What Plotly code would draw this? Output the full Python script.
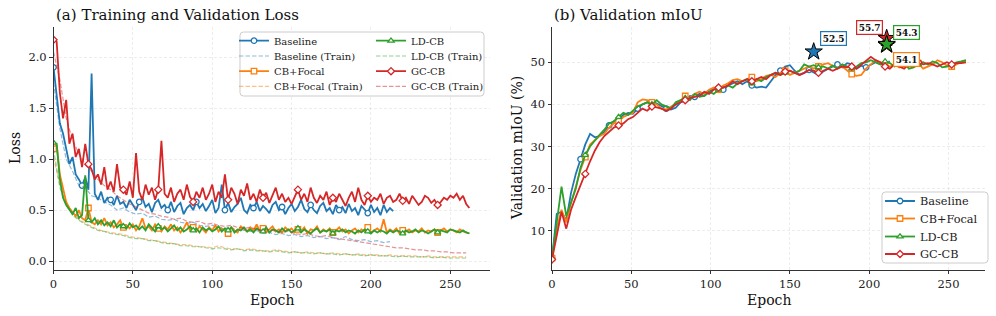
import plotly.graph_objects as go

# ---------------- data ----------------
METHODS = ["Baseline", "CB+Focal", "LD-CB", "GC-CB"]
VAL_STEP = 2      # epochs between stored validation-loss values
TRAIN_STEP = 4    # epochs between stored train-loss values
MIOU_STEP = 3     # epochs between stored mIoU values

BASE_VAL = [1.90, 1.62, 1.35, 1.25, 1.08, 0.95, 1.02, 0.85, 0.80, 0.74,
            0.82, 0.70, 1.84, 0.66, 0.60, 0.68, 0.57, 0.62, 0.60, 0.55,
            0.64, 0.56, 0.58, 0.52, 0.60, 0.55, 0.50, 0.58, 0.62, 0.53,
            0.56, 0.48, 0.57, 0.60, 0.52, 0.55, 0.50, 0.58, 0.48, 0.54,
            0.57, 0.46, 0.52, 0.55, 0.50, 0.58, 0.52, 0.56, 0.49, 0.54,
            0.60, 0.47, 0.52, 0.75, 0.50, 0.57, 0.48, 0.53, 0.56, 0.62,
            0.50, 0.47, 0.55, 0.52, 0.58, 0.49, 0.54, 0.51, 0.47, 0.55,
            0.58, 0.50, 0.53, 0.46, 0.52, 0.56, 0.49, 0.53, 0.60, 0.51,
            0.48, 0.55, 0.50, 0.47, 0.54, 0.57, 0.49, 0.52, 0.46, 0.55,
            0.50, 0.53, 0.47, 0.56, 0.49, 0.52, 0.45, 0.54, 0.50, 0.47,
            0.55, 0.48, 0.52, 0.45, 0.55, 0.48, 0.52, 0.49]
CB_VAL = [1.10, 1.14, 0.85, 0.70, 0.58, 0.52, 0.48, 0.44, 0.50, 0.42,
          0.40, 0.52, 0.38, 0.36, 0.40, 0.36, 0.42, 0.35, 0.38, 0.33,
          0.36, 0.40, 0.33, 0.35, 0.32, 0.36, 0.30, 0.34, 0.42, 0.32,
          0.34, 0.30, 0.36, 0.32, 0.29, 0.34, 0.31, 0.36, 0.30, 0.33,
          0.28, 0.32, 0.38, 0.30, 0.33, 0.29, 0.34, 0.31, 0.28, 0.33,
          0.30, 0.35, 0.29, 0.32, 0.30, 0.27, 0.33, 0.30, 0.28, 0.34,
          0.31, 0.29, 0.33, 0.30, 0.36, 0.29, 0.32, 0.28, 0.31, 0.34,
          0.29, 0.31, 0.28, 0.33, 0.30, 0.32, 0.28, 0.31, 0.29, 0.33,
          0.27, 0.31, 0.30, 0.34, 0.28, 0.31, 0.29, 0.32, 0.28, 0.30,
          0.33, 0.29, 0.31, 0.27, 0.30, 0.32, 0.28, 0.31, 0.29, 0.33,
          0.28, 0.30, 0.32, 0.29, 0.41, 0.28, 0.31, 0.29, 0.32, 0.27,
          0.30, 0.29, 0.31, 0.28, 0.30, 0.29, 0.32, 0.28, 0.30, 0.29,
          0.31, 0.28, 0.30, 0.32, 0.29, 0.31, 0.30, 0.28, 0.31, 0.29,
          0.28, 0.27]
LD_VAL = [1.16, 1.15, 0.80, 0.62, 0.55, 0.50, 0.46, 0.52, 0.42, 0.45,
          0.84, 0.40, 0.38, 0.42, 0.36, 0.40, 0.35, 0.38, 0.34, 0.40,
          0.33, 0.36, 0.34, 0.32, 0.37, 0.33, 0.35, 0.31, 0.34, 0.30,
          0.36, 0.32, 0.29, 0.34, 0.31, 0.33, 0.29, 0.32, 0.35, 0.30,
          0.33, 0.29, 0.31, 0.34, 0.30, 0.32, 0.28, 0.33, 0.30, 0.32,
          0.29, 0.31, 0.34, 0.29, 0.32, 0.30, 0.33, 0.28, 0.31, 0.30,
          0.33, 0.29, 0.31, 0.28, 0.32, 0.30, 0.29, 0.33, 0.28, 0.31,
          0.30, 0.28, 0.32, 0.29, 0.31, 0.28, 0.30, 0.32, 0.28, 0.31,
          0.29, 0.27, 0.30, 0.32, 0.28, 0.30, 0.29, 0.31, 0.27, 0.30,
          0.29, 0.31, 0.28, 0.30, 0.29, 0.27, 0.30, 0.28, 0.31, 0.29,
          0.27, 0.30, 0.28, 0.30, 0.29, 0.27, 0.30, 0.28, 0.30, 0.29,
          0.27, 0.30, 0.28, 0.29, 0.31, 0.28, 0.30, 0.29, 0.27, 0.29,
          0.31, 0.28, 0.30, 0.29, 0.28, 0.31, 0.30, 0.29, 0.28, 0.30,
          0.28, 0.27]
GC_VAL = [2.17, 2.15, 1.65, 1.40, 1.58, 1.15, 1.25, 1.02, 1.10, 0.92,
          1.15, 0.95, 0.90, 0.80, 0.85, 0.75, 0.92, 0.70, 0.78, 0.68,
          0.95, 0.72, 0.70, 0.65, 0.78, 0.62, 1.06, 0.68, 0.60, 0.75,
          0.65, 0.72, 0.60, 0.70, 1.18, 0.66, 0.62, 0.72, 0.58, 0.66,
          0.70, 0.60, 0.75, 0.63, 0.58, 0.68, 0.62, 0.72, 0.60, 0.66,
          0.75, 0.58, 0.68, 0.62, 0.85, 0.60, 0.72, 0.66, 0.56, 0.70,
          0.64, 0.76, 0.60, 0.66, 0.58, 0.70, 0.62, 0.67, 0.57, 0.65,
          0.72, 0.60, 0.66, 0.58, 0.62, 0.56, 0.64, 0.70, 0.60, 0.66,
          0.58, 0.72, 0.62, 0.57, 0.64, 0.60, 0.68, 0.55, 0.62, 0.58,
          0.66, 0.60, 0.54, 0.62, 0.68, 0.58, 0.72, 0.60, 0.55, 0.64,
          0.58, 0.62, 0.60, 0.66, 0.56, 0.62, 0.64, 0.58, 0.60, 0.66,
          0.59, 0.62, 0.56, 0.64, 0.60, 0.55, 0.58, 0.64, 0.62, 0.57,
          0.60, 0.55, 0.58, 0.62, 0.60, 0.64, 0.62, 0.66, 0.60, 0.64,
          0.56, 0.52]

BASE_TRAIN = [1.75, 1.30, 1.00, 0.88, 0.74, 0.72, 0.64, 0.62, 0.58, 0.55,
              0.50, 0.52, 0.48, 0.46, 0.47, 0.43, 0.44, 0.41, 0.40, 0.41,
              0.38, 0.37, 0.38, 0.35, 0.34, 0.35, 0.33, 0.32, 0.33, 0.30,
              0.30, 0.29, 0.30, 0.27, 0.28, 0.26, 0.27, 0.25, 0.26, 0.24,
              0.25, 0.23, 0.24, 0.22, 0.23, 0.21, 0.24, 0.21, 0.20, 0.21,
              0.19, 0.20, 0.18, 0.19]
CB_TRAIN = [1.02, 0.75, 0.57, 0.47, 0.41, 0.37, 0.34, 0.31, 0.29, 0.28,
            0.27, 0.26, 0.24, 0.23, 0.22, 0.21, 0.20, 0.19, 0.18, 0.17,
            0.16, 0.16, 0.15, 0.14, 0.14, 0.13, 0.15, 0.13, 0.12, 0.12,
            0.11, 0.12, 0.11, 0.10, 0.10, 0.11, 0.10, 0.09, 0.09, 0.08,
            0.09, 0.08, 0.08, 0.07, 0.08, 0.07, 0.07, 0.06, 0.07, 0.06,
            0.06, 0.06, 0.05, 0.06, 0.05, 0.05, 0.05, 0.05, 0.04, 0.05,
            0.04, 0.04, 0.04, 0.04, 0.04, 0.04]
LD_TRAIN = [1.10, 0.72, 0.55, 0.45, 0.40, 0.36, 0.33, 0.30, 0.29, 0.27,
            0.26, 0.25, 0.23, 0.22, 0.22, 0.20, 0.20, 0.18, 0.17, 0.17,
            0.15, 0.15, 0.14, 0.14, 0.13, 0.12, 0.13, 0.12, 0.11, 0.12,
            0.10, 0.11, 0.10, 0.10, 0.09, 0.10, 0.09, 0.08, 0.09, 0.08,
            0.08, 0.07, 0.08, 0.07, 0.07, 0.06, 0.07, 0.06, 0.06, 0.05,
            0.06, 0.05, 0.05, 0.05, 0.04, 0.05, 0.04, 0.04, 0.04, 0.04,
            0.03, 0.04, 0.03, 0.03, 0.03, 0.03]
GC_TRAIN = [2.05, 1.78, 1.40, 1.19, 1.05, 0.95, 0.88, 0.80, 0.74, 0.70,
            0.64, 0.60, 0.56, 0.53, 0.50, 0.47, 0.46, 0.44, 0.43, 0.41,
            0.42, 0.39, 0.38, 0.39, 0.36, 0.37, 0.35, 0.34, 0.35, 0.33,
            0.32, 0.33, 0.31, 0.30, 0.31, 0.29, 0.28, 0.29, 0.27, 0.26,
            0.27, 0.25, 0.24, 0.25, 0.23, 0.22, 0.21, 0.20, 0.19, 0.18,
            0.17, 0.16, 0.15, 0.14, 0.13, 0.13, 0.12, 0.11, 0.11, 0.10,
            0.10, 0.09, 0.09, 0.08, 0.08, 0.08]

BASE_MIOU = [3.5, 14.0, 14.5, 12.5, 19.0, 23.5, 27.0, 30.5, 33.0, 32.2,
             32.5, 33.5, 35.0, 36.0, 36.5, 37.5, 38.0, 37.8, 39.0, 40.0,
             40.5, 40.8, 40.2, 39.5, 39.0, 38.8, 39.2, 40.5, 41.0, 42.0,
             41.8, 42.5, 42.0, 43.0, 43.8, 44.2, 43.5, 44.5, 45.0, 45.5,
             44.8, 45.5, 44.5, 44.0, 44.2, 44.0, 45.5, 47.0, 48.0, 49.0,
             49.3, 48.0, 47.0, 47.5, 48.2, 47.5, 47.0, 47.8, 48.5, 49.0,
             49.5, 48.8, 49.8, 49.5, 48.5, 49.2, 48.8, 49.5, 50.0, 49.5,
             49.8, 50.2]
CB_MIOU = [3.5, 10.5, 15.0, 12.0, 16.5, 20.5, 24.5, 27.5, 30.5, 31.5,
           32.5, 33.0, 34.5, 35.5, 36.0, 37.0, 37.5, 38.0, 40.5, 41.2,
           41.0, 40.5, 40.0, 39.0, 38.8, 39.5, 40.0, 40.8, 42.0, 41.5,
           42.5, 43.0, 42.5, 43.5, 44.0, 43.5, 44.5, 45.0, 45.8, 46.0,
           45.5, 46.0, 46.5, 45.5, 46.0, 46.8, 47.0, 46.5, 47.5, 48.0,
           47.0, 47.5, 48.0, 48.5, 49.0, 48.5, 49.0, 49.5, 49.8, 49.2,
           48.5, 49.0, 48.0, 47.2, 46.8, 47.0, 48.5, 49.5, 50.5, 50.0,
           49.5, 49.0, 49.5, 48.8, 49.5, 50.0, 49.5, 49.8, 48.5, 49.0,
           49.5, 50.5, 50.0, 49.2, 49.0, 49.5, 50.0, 50.3]
LD_MIOU = [3.5, 12.0, 20.5, 13.5, 17.0, 20.0, 25.0, 28.0, 30.0, 31.5,
           32.8, 34.0, 35.5, 36.0, 37.0, 38.0, 37.5, 38.5, 39.5, 40.0,
           40.5, 40.0, 41.0, 40.0, 39.5, 39.0, 40.5, 41.0, 41.5, 41.0,
           42.5, 41.8, 42.0, 43.0, 42.5, 43.5, 44.0, 44.5, 44.0, 45.0,
           45.5, 46.0, 45.0, 46.0, 45.5, 46.5, 47.0, 47.5, 47.0, 47.5,
           48.0, 47.5, 48.0, 49.5, 49.0, 49.3, 48.8, 49.0, 48.5, 49.2,
           48.5, 49.5, 49.0, 48.5, 49.0, 49.8, 50.0, 50.5, 50.0, 49.5,
           50.2, 49.8, 49.0, 49.5, 50.0, 48.5, 48.8, 49.5, 50.0, 49.5,
           50.2, 49.8, 48.8, 49.0, 49.5, 50.0, 50.2, 50.5]
GC_MIOU = [3.2, 9.0, 14.5, 10.5, 15.0, 18.0, 21.0, 23.5, 26.5, 29.0,
           31.0, 32.5, 33.5, 34.5, 35.0, 35.5, 36.5, 37.0, 38.0, 39.0,
           38.5, 39.5, 39.3, 39.0, 38.5, 39.0, 40.0, 40.5, 41.0, 41.5,
           41.8, 42.0, 43.0, 42.5, 43.5, 44.0, 44.0, 44.5, 45.5, 44.8,
           45.5, 46.0, 45.5, 46.0, 46.5, 46.0, 47.0, 47.5, 47.0, 47.8,
           48.0, 47.5, 47.0, 47.5, 48.2, 48.0, 47.5, 48.0, 48.5, 48.0,
           48.5, 49.0, 48.8, 49.0, 48.5, 49.5, 50.5, 51.3, 50.5, 50.0,
           49.0, 48.5, 49.5, 49.0, 48.5, 49.5, 50.5, 50.0, 49.5, 49.8,
           49.5, 49.0, 49.5, 50.0, 49.5, 49.8, 49.8, 50.0]

# best-mIoU stars (epoch, value) per method
BEST_EPOCH = [165, 211, 211, 211]
BEST_MIOU = [52.5, 54.1, 54.3, 55.7]

LOSS_TICKS = [0.0, 0.5, 1.0, 1.5, 2.0]
MIOU_TICKS = [10, 20, 30, 40, 50]
EPOCH_TICKS = [0, 50, 100, 150, 200, 250]

# ---------------- styling ----------------
FONT = "DejaVu Serif"
COLORS = ["#1f77b4", "#ff7f0e", "#2ca02c", "#d62728"]
FADED = ["rgba(31,119,180,0.5)", "rgba(255,127,14,0.5)",
         "rgba(44,160,44,0.5)", "rgba(214,39,40,0.5)"]
SYMBOLS = ["circle", "square", "triangle-up", "diamond"]
AXC = "#333333"
MSIZE = 5.5

val_sets = [BASE_VAL, CB_VAL, LD_VAL, GC_VAL]
train_sets = [BASE_TRAIN, CB_TRAIN, LD_TRAIN, GC_TRAIN]
miou_sets = [BASE_MIOU, CB_MIOU, LD_MIOU, GC_MIOU]
loss_mark_every = [9, 11, 11, 11]
miou_mark_every = [6, 7, 7, 7]

fig = go.Figure()


def epochs(vals, step):
    return [i * step for i in range(len(vals))]


def add_line_with_marks(x, y, i, every, xa, ya):
    fig.add_trace(go.Scatter(x=x, y=y, mode="lines", xaxis=xa, yaxis=ya,
                             line=dict(color=COLORS[i], width=1.8),
                             showlegend=False, hoverinfo="skip"))
    fig.add_trace(go.Scatter(x=x[::every], y=y[::every], mode="markers",
                             xaxis=xa, yaxis=ya, showlegend=False,
                             hoverinfo="skip",
                             marker=dict(symbol=SYMBOLS[i], size=MSIZE,
                                         color="white",
                                         line=dict(color=COLORS[i], width=1.3))))


# left panel
for i in range(4):
    xv = epochs(val_sets[i], VAL_STEP)
    add_line_with_marks(xv, val_sets[i], i, loss_mark_every[i], "x", "y")
    xt = epochs(train_sets[i], TRAIN_STEP)
    fig.add_trace(go.Scatter(x=xt, y=train_sets[i], mode="lines",
                             xaxis="x", yaxis="y", showlegend=False,
                             hoverinfo="skip",
                             line=dict(color=FADED[i], width=1.2,
                                       dash="4.5px,2px")))

# right panel
for i in range(4):
    xm = epochs(miou_sets[i], MIOU_STEP)
    add_line_with_marks(xm, miou_sets[i], i, miou_mark_every[i], "x2", "y2")

for i in [0, 3, 1, 2]:
    fig.add_trace(go.Scatter(x=[BEST_EPOCH[i]], y=[BEST_MIOU[i]], mode="markers",
                             xaxis="x2", yaxis="y2", showlegend=False,
                             hoverinfo="skip",
                             marker=dict(symbol="star", size=13, color=COLORS[i],
                                         line=dict(color="black", width=1))))

# ---------------- legends (one entry per legend for exact spacing) -------------
W, H = 996, 316
leg_layout = {}
k = 0


def legend_entry(name, i, train, px, py, size):
    global k
    k += 1
    lname = "legend" if k == 1 else f"legend{k}"
    if train:
        tr = go.Scatter(x=[None], y=[None], mode="lines", name=name,
                        line=dict(color=FADED[i], width=1.2, dash="4.5px,2px"))
    else:
        tr = go.Scatter(x=[None], y=[None], mode="lines+markers", name=name,
                        line=dict(color=COLORS[i], width=1.8),
                        marker=dict(symbol=SYMBOLS[i], size=MSIZE, color="white",
                                    line=dict(color=COLORS[i], width=1.3)))
    tr.legend = lname
    tr.showlegend = True
    fig.add_trace(tr)
    leg_layout[lname] = dict(x=px / W, y=1 - py / H, xanchor="left",
                             yanchor="middle", bgcolor="rgba(0,0,0,0)",
                             borderwidth=0, font=dict(family=FONT, size=size,
                                                      color="#222"),
                             itemclick=False, itemdoubleclick=False)


rows_l = [40.7, 56.0, 71.2, 86.4]
legend_entry("Baseline", 0, False, 234, rows_l[0], 10)
legend_entry("Baseline (Train)", 0, True, 234, rows_l[1], 10)
legend_entry("CB+Focal", 1, False, 234, rows_l[2], 10)
legend_entry("CB+Focal (Train)", 1, True, 234, rows_l[3], 10)
legend_entry("LD-CB", 2, False, 371, rows_l[0], 10)
legend_entry("LD-CB (Train)", 2, True, 371, rows_l[1], 10)
legend_entry("GC-CB", 3, False, 371, rows_l[2], 10)
legend_entry("GC-CB (Train)", 3, True, 371, rows_l[3], 10)
rows_r = [201.0, 218.5, 236.5, 254.0]
for i, nm in enumerate(METHODS):
    legend_entry(nm, i, False, 880, rows_r[i], 11.3)


def rounded_box(x0, y0, x1, y1, r=3.5):
    """Rounded rectangle path in paper coords from pixel corners."""
    def P(x, y):
        return f"{x / W:.5f},{1 - y / H:.5f}"
    return (f"M{P(x0 + r, y0)} L{P(x1 - r, y0)} Q{P(x1, y0)} {P(x1, y0 + r)} "
            f"L{P(x1, y1 - r)} Q{P(x1, y1)} {P(x1 - r, y1)} "
            f"L{P(x0 + r, y1)} Q{P(x0, y1)} {P(x0, y1 - r)} "
            f"L{P(x0, y0 + r)} Q{P(x0, y0)} {P(x0 + r, y0)} Z")


shapes = [
    dict(type="path", xref="paper", yref="paper",
         path=rounded_box(240, 32, 484, 96), line=dict(color="#cccccc", width=1),
         fillcolor="rgba(255,255,255,0.85)", layer="above"),
    dict(type="path", xref="paper", yref="paper",
         path=rounded_box(882, 192, 988, 263), line=dict(color="#cccccc", width=1),
         fillcolor="rgba(255,255,255,0.85)", layer="above"),
]

# ---------------- annotations ----------------
ann = [
    dict(text="(a) Training and Validation Loss", x=54 / W, y=1 - 15 / H,
         xref="paper", yref="paper", xanchor="left", yanchor="middle",
         showarrow=False, font=dict(family=FONT, size=15, color="#111")),
    dict(text="(b) Validation mIoU", x=552 / W, y=1 - 15 / H,
         xref="paper", yref="paper", xanchor="left", yanchor="middle",
         showarrow=False, font=dict(family=FONT, size=15, color="#111")),
    dict(text="Epoch", x=(53.5 + 490) / 2 / W, y=1 - 300 / H, xref="paper",
         yref="paper", xanchor="center", yanchor="middle", showarrow=False,
         font=dict(family=FONT, size=14, color="#111")),
    dict(text="Epoch", x=(552 + 985) / 2 / W, y=1 - 300 / H, xref="paper",
         yref="paper", xanchor="center", yanchor="middle", showarrow=False,
         font=dict(family=FONT, size=14, color="#111")),
    dict(text="Loss", x=15 / W, y=1 - 148 / H, xref="paper", yref="paper",
         xanchor="center", yanchor="middle", textangle=-90, showarrow=False,
         font=dict(family=FONT, size=14, color="#111")),
    dict(text="Validation mIoU (%)", x=517 / W, y=1 - 148 / H, xref="paper",
         yref="paper", xanchor="center", yanchor="middle", textangle=-90,
         showarrow=False, font=dict(family=FONT, size=14, color="#111")),
]
label_shift = [(20, 13), (20, -14), (20, 12), (-17, 11)]
for i in range(4):
    ann.append(dict(text=f"<b>{BEST_MIOU[i]:.1f}</b>", x=BEST_EPOCH[i],
                    y=BEST_MIOU[i], xref="x2", yref="y2", showarrow=False,
                    xshift=label_shift[i][0], yshift=label_shift[i][1],
                    bgcolor="white", bordercolor=COLORS[i], borderwidth=1.2,
                    borderpad=1.5, font=dict(family=FONT, size=9, color="#111")))

axis_common = dict(showline=True, linecolor=AXC, linewidth=1, ticks="outside",
                   ticklen=3.5, tickwidth=1, tickcolor=AXC, showgrid=True,
                   gridcolor="rgba(0,0,0,0.09)", gridwidth=0.8,
                   griddash="3px,2px", zeroline=False, automargin=False,
                   tickfont=dict(family=FONT, size=11.5, color="#222"))
YD = [1 - 269.5 / H, 1 - 26.5 / H]

fig.update_layout(
    width=W, height=H, margin=dict(l=0, r=0, t=0, b=0),
    paper_bgcolor="white", plot_bgcolor="white",
    font=dict(family=FONT, size=12, color="#222"),
    xaxis=dict(domain=[53.5 / W, 490 / W], range=[0, 275], anchor="y",
               tickvals=EPOCH_TICKS, **axis_common),
    yaxis=dict(domain=YD, range=[-0.083, 2.30], anchor="x",
               tickvals=LOSS_TICKS, tickformat=".1f", **axis_common),
    xaxis2=dict(domain=[552 / W, 985 / W], range=[0, 273], anchor="y2",
                tickvals=EPOCH_TICKS, **axis_common),
    yaxis2=dict(domain=YD, range=[0.8, 58.5], anchor="x2",
                tickvals=MIOU_TICKS, **axis_common),
    shapes=shapes, annotations=ann, hovermode=False,
    **leg_layout,
)

fig.write_html("out.html", config={"displayModeBar": False, "staticPlot": True})

# remove the browser's default page margin so the figure sits at (0, 0)
with open("out.html", encoding="utf-8") as fh:
    page = fh.read()
page = page.replace("<head>", "<head><style>html,body{margin:0;padding:0;"
                    "overflow:hidden;}</style>", 1)
with open("out.html", "w", encoding="utf-8") as fh:
    fh.write(page)
